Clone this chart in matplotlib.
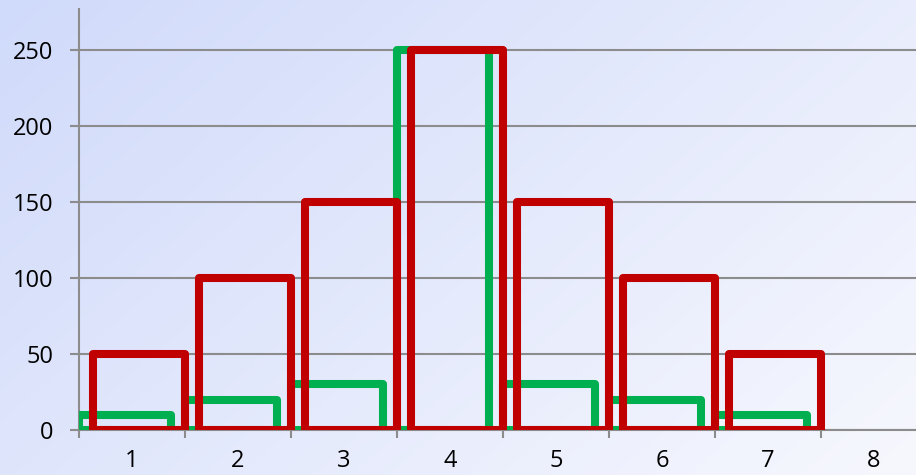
import numpy as np
import matplotlib.pyplot as plt

# chart values
categories = [1, 2, 3, 4, 5, 6, 7]
green_vals = [10, 20, 30, 250, 30, 20, 10]
red_vals = [50, 100, 150, 250, 150, 100, 50]
x_labels = ['1', '2', '3', '4', '5', '6', '7', '8']
y_ticks = [0, 50, 100, 150, 200, 250]

GREEN = '#00B050'
RED = '#C00000'
GRID = '#8C8C8C'

W, H = 916, 475
fig = plt.figure(figsize=(W / 100, H / 100), dpi=100)

# diagonal light-blue to white background
bg = fig.add_axes([0, 0, 1, 1], zorder=-10)
xx, yy = np.meshgrid(np.linspace(0, 1, 300), np.linspace(0, 1, 160))
t = np.clip((xx * 0.75 + yy * 0.45) / 1.2, 0, 1)
c0 = np.array([208, 218, 250]) / 255
c1 = np.array([247, 248, 254]) / 255
img = c0[None, None, :] * (1 - t[..., None]) + c1[None, None, :] * t[..., None]
bg.imshow(img, aspect='auto', extent=[0, 1, 0, 1], origin='upper', interpolation='bilinear')
bg.axis('off')

ax = fig.add_axes([79 / W, 45 / H, 848 / W, 420.5 / H])
ax.patch.set_alpha(0)

width = 0.865
offset = 0.066
x = np.array(categories)
ax.bar(x - offset, green_vals, width=width, fill=False, edgecolor=GREEN,
       linewidth=5.8, joinstyle='round', zorder=3)
ax.bar(x + offset, red_vals, width=width, fill=False, edgecolor=RED,
       linewidth=5.8, joinstyle='round', zorder=4)

ax.set_xlim(0.5, 8.5)
ax.set_ylim(0, 276.6)

ax.set_yticks(y_ticks)
ax.set_yticklabels([str(v) for v in y_ticks])
ax.set_xticks(np.arange(1, 9))
ax.set_xticklabels(x_labels)
ax.set_xticks(np.arange(0.5, 9, 1), minor=True)

for s in ['top', 'right']:
    ax.spines[s].set_visible(False)
for s in ['left', 'bottom']:
    ax.spines[s].set_color(GRID)
    ax.spines[s].set_linewidth(1.5)
    ax.spines[s].set_zorder(2)

ax.yaxis.grid(True, color=GRID, linewidth=1.5, zorder=1)
ax.set_axisbelow(True)

ax.tick_params(axis='y', which='major', length=6.5, width=1.5, color=GRID,
               pad=12, labelsize=17, labelcolor='black')
ax.tick_params(axis='x', which='major', length=0, pad=14, labelsize=17,
               labelcolor='black')
ax.tick_params(axis='x', which='minor', length=6, width=1.5, color=GRID)

for lab in ax.get_xticklabels() + ax.get_yticklabels():
    lab.set_family(['Open Sans', 'DejaVu Sans'])

fig.savefig('out.png', dpi=100)
